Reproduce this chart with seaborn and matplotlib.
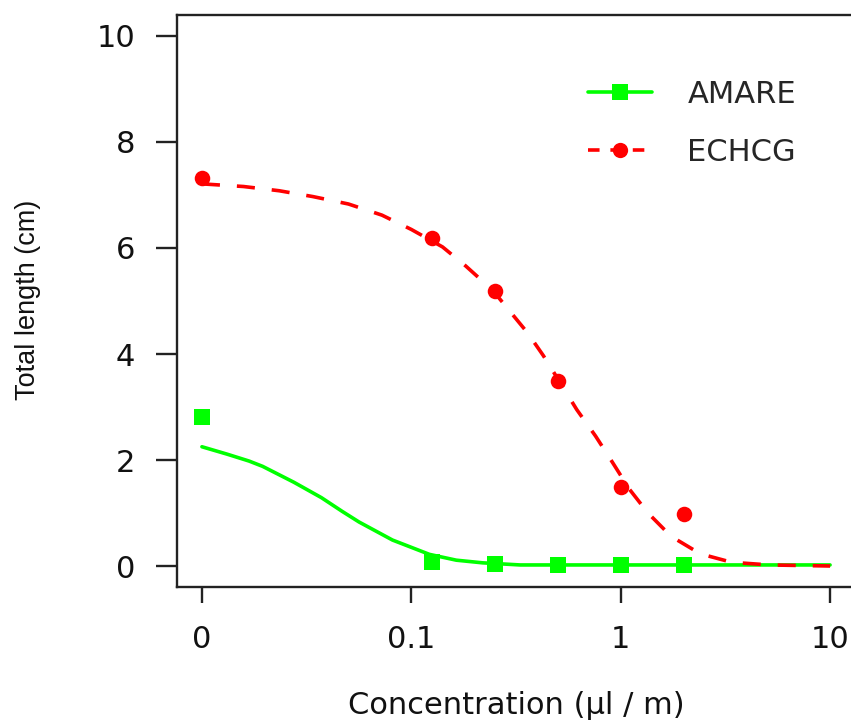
"""Dose-response plot: total length against concentration (log axis, 0 shown at 0.01)."""

import matplotlib
matplotlib.use("Agg")
import matplotlib.pyplot as plt
from matplotlib.lines import Line2D
import pandas as pd
import seaborn as sns

# observed means
doses = [0, 0.125, 0.25, 0.5, 1, 2]
amare_obs = [2.81, 0.08, 0.04, 0.02, 0.02, 0.02]
echcg_obs = [7.33, 6.18, 5.18, 3.50, 1.49, 0.98]

# fitted curves
amare_fit_x = [0.0100, 0.0132, 0.0168, 0.0195, 0.0275, 0.0372, 0.0468, 0.0563,
               0.0813, 0.122, 0.164, 0.219, 0.331, 1.0, 10.0]
amare_fit_y = [2.25, 2.11, 1.98, 1.88, 1.58, 1.29, 1.03, 0.83,
               0.49, 0.22, 0.11, 0.06, 0.02, 0.02, 0.02]
echcg_fit_x = [0.0100, 0.0158, 0.0234, 0.0339, 0.0501, 0.0724, 0.100, 0.141,
               0.182, 0.245, 0.288, 0.359, 0.427, 0.501, 0.617, 0.759, 0.912,
               1.10, 1.35, 1.74, 2.40, 3.39, 5.13, 10.0]
echcg_fit_y = [7.21, 7.16, 7.08, 6.97, 6.83, 6.62, 6.35, 6.02,
               5.66, 5.20, 4.86, 4.40, 3.97, 3.53, 2.95, 2.45, 1.96,
               1.45, 1.00, 0.56, 0.23, 0.07, 0.02, 0.0]

x_ticks = [0.01, 0.1, 1, 10]
x_tick_labels = ["0", "0.1", "1", "10"]
y_ticks = [0, 2, 4, 6, 8, 10]

GREEN = "#00ff00"
RED = "#ff0000"
LW = 2.6
DASH = (0, (5.0, 4.7))


def main():
    sns.set_style("ticks")
    plt.rcParams["font.family"] = ["DejaVu Sans"]

    fig = plt.figure(figsize=(8.51, 7.23), dpi=100)
    ax = fig.add_axes([177 / 851, 136 / 723, 678 / 851, 572 / 723])

    # dose 0 is drawn one decade below the first positive tick
    pts = pd.DataFrame({
        "dose": [d if d > 0 else 0.01 for d in doses] * 2,
        "length": amare_obs + echcg_obs,
        "species": ["AMARE"] * len(doses) + ["ECHCG"] * len(doses),
    })
    amare_fit = pd.DataFrame({"dose": amare_fit_x, "length": amare_fit_y})
    echcg_fit = pd.DataFrame({"dose": echcg_fit_x, "length": echcg_fit_y})

    sns.scatterplot(data=pts[pts.species == "AMARE"], x="dose", y="length",
                    color=GREEN, marker="s", s=125, linewidth=0, ax=ax, zorder=3)
    sns.lineplot(data=amare_fit, x="dose", y="length", color=GREEN,
                 linewidth=LW, sort=False, estimator=None, ax=ax, zorder=3)
    sns.scatterplot(data=pts[pts.species == "ECHCG"], x="dose", y="length",
                    color=RED, marker="o", s=125, linewidth=0, ax=ax, zorder=4)
    sns.lineplot(data=echcg_fit, x="dose", y="length", color=RED,
                 linewidth=LW, linestyle=DASH, sort=False, estimator=None,
                 ax=ax, zorder=4)
    for line in ax.lines:
        line.set_linewidth(LW)

    ax.set_xscale("log")
    ax.set_xlim(10 ** -2.119, 10 ** 1.119)
    ax.set_ylim(-0.396, 10.396)
    ax.set_xticks(x_ticks)
    ax.set_xticklabels(x_tick_labels)
    ax.xaxis.set_minor_locator(plt.NullLocator())
    ax.set_yticks(y_ticks)
    ax.tick_params(axis="both", labelsize=22, width=1.7, color="#222222",
                   labelcolor="#111111")
    ax.tick_params(axis="y", length=15, pad=15)
    ax.tick_params(axis="x", length=11.5, pad=16)
    for side in ["top", "left", "bottom"]:
        ax.spines[side].set_linewidth(1.7)
        ax.spines[side].set_color("#222222")
    ax.spines["right"].set_visible(False)
    ax.set_xlabel("")
    ax.set_ylabel("")

    fig.text(516 / 851, 1 - 705 / 723, "Concentration (\u00b5l / m)", fontsize=22,
             ha="center", va="center", color="#111111")
    fig.text(28 / 851, 1 - 300 / 723, "Total length (cm)", fontsize=19.5,
             rotation=90, ha="center", va="center", color="#111111",
             family=["Liberation Sans", "DejaVu Sans"])

    handles = [
        Line2D([], [], color=GREEN, lw=LW, marker="s", markersize=11,
               markeredgewidth=0),
        Line2D([], [], color=RED, lw=LW, linestyle=(0, (3.2, 3.0)), marker="o",
               markersize=11, markeredgewidth=0),
    ]
    ax.legend(handles, ["AMARE", "ECHCG"], loc="center left",
              bbox_to_anchor=(588 / 851, 1 - 123.5 / 723),
              bbox_transform=fig.transFigure, frameon=False, fontsize=22,
              numpoints=1, handlelength=2.1, handletextpad=1.15,
              labelspacing=0.95, borderpad=0, borderaxespad=0)

    fig.savefig("out.png", dpi=100)
    plt.close(fig)


if __name__ == "__main__":
    main()
